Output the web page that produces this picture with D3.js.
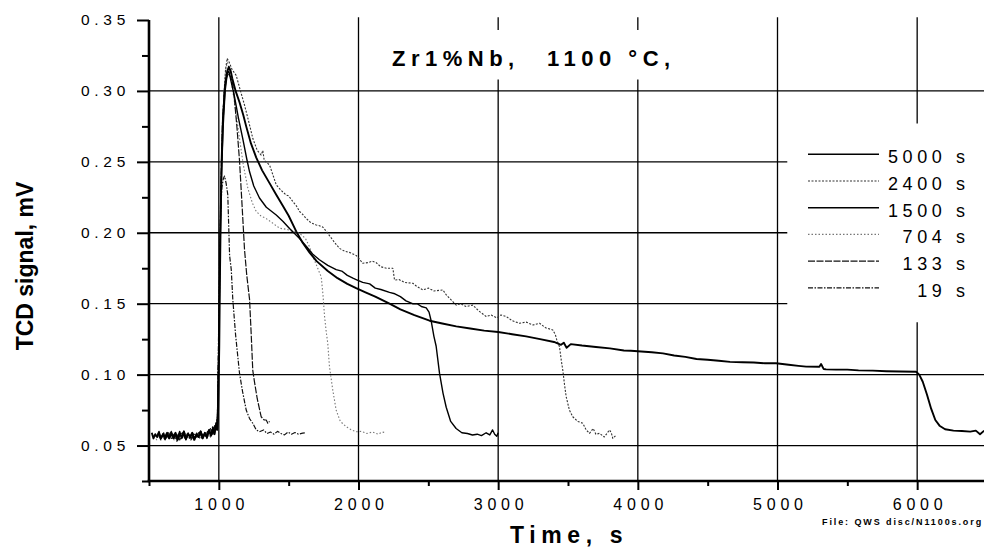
<!DOCTYPE html>
<html><head><meta charset="utf-8">
<script src="https://cdn.jsdelivr.net/npm/d3@7"></script>
<style>body{margin:0;background:#fff}svg{display:block}</style>
</head><body>
<svg id="c" width="984" height="548"></svg>
<script>
// ---------- data ----------
const xTicks = [1000, 2000, 3000, 4000, 5000, 6000];
const xMinorTicks = [500, 1500, 2500, 3500, 4500, 5500, 6500];
const yTicks = [0.05, 0.10, 0.15, 0.20, 0.25, 0.30, 0.35];
const yMinorTicks = [0.025, 0.075, 0.125, 0.175, 0.225, 0.275, 0.325];
const titleParts = ["Zr1%Nb,", "1100 °C,"];
const xLabel = "Time, s";
const yLabel = "TCD signal, mV";
const fileNote = "File: QWS disc/N1100s.org";
const legendLabels = ["5000 s", "2400 s", "1500 s", "704 s", "133 s", "19 s"];

const s5000 = [[520,.059],[532,.055],[545,.058],[558,.056],[570,.059],[585,.055],[600,.058],[615,.056],[630,.059],[645,.055],[660,.058],[675,.056],[690,.059],[705,.054],[720,.058],[735,.056],[750,.060],[765,.055],[780,.058],[795,.056],[810,.059],[825,.054],[840,.058],[855,.056],[870,.060],[885,.055],[900,.059],[915,.056],[930,.061],[945,.057],[958,.062],[968,.058],[978,.064],[988,.061],[993,.067],
[998,.09],[1003,.12],[1008,.17],[1014,.215],[1020,.25],[1030,.282],[1045,.304],[1060,.314],[1072,.317],[1085,.314],[1096,.309],[1120,.300],[1148,.292],[1175,.283],[1196,.275],[1230,.263],[1268,.253],[1310,.244],[1363,.235],[1410,.227],[1458,.219],[1500,.212],[1554,.201],[1600,.193],[1650,.186],[1700,.180],[1780,.173],[1850,.168],[1920,.164],[1983,.161],[2050,.158],[2120,.155],[2222,.150],[2300,.146],[2400,.142],[2509,.138],[2600,.136],[2700,.134],[2800,.1325],[2900,.131],[3000,.130],[3100,.1285],[3200,.127],[3300,.125],[3400,.123],[3450,.121],[3470,.1225],[3490,.119],[3520,.1215],[3600,.1205],[3700,.1195],[3800,.1185],[3900,.117],[3950,.1168],[4000,.1165],[4100,.1158],[4180,.115],[4260,.1135],[4340,.1125],[4420,.111],[4500,.1105],[4580,.1098],[4660,.109],[4750,.1087],[4830,.1085],[4910,.108],[4990,.108],[5080,.107],[5150,.1062],[5205,.1056],[5300,.1055],[5312,.1075],[5330,.104],[5348,.1037],[5420,.1035],[5500,.1035],[5580,.103],[5682,.1028],[5780,.1024],[5880,.1022],[5992,.102],[6015,.100],[6040,.095],[6070,.086],[6100,.076],[6130,.068],[6160,.064],[6200,.0615],[6260,.0605],[6320,.0602],[6380,.0598],[6420,.0605],[6450,.058],[6480,.0605]];

const s2400 = [[600,.058],[612,.054],[625,.057],[640,.055],[655,.059],[670,.055],[685,.058],[700,.054],[715,.057],[730,.055],[745,.058],[760,.054],[775,.057],[790,.055],[805,.058],[820,.054],[835,.057],[850,.056],[865,.059],[880,.055],[895,.058],[910,.056],[925,.060],[940,.056],[955,.063],[968,.058],[980,.065],[990,.07],
[996,.10],[1004,.15],[1012,.21],[1022,.26],[1035,.295],[1048,.315],[1060,.323],[1075,.320],[1095,.315],[1124,.311],[1155,.300],[1184,.290],[1215,.278],[1243,.2666],[1275,.258],[1303,.2548],[1315,.258],[1325,.251],[1363,.2478],[1390,.240],[1411,.2337],[1445,.230],[1482,.2266],[1500,.226],[1530,.222],[1555,.219],[1578,.215],[1600,.213],[1626,.210],[1660,.207],[1697,.2055],[1720,.205],[1744,.204],[1770,.201],[1792,.198],[1830,.193],[1864,.189],[1900,.187],[1940,.186],[1983,.184],[2010,.181],[2031,.1785],[2070,.179],[2100,.180],[2126,.179],[2160,.176],[2200,.175],[2246,.175],[2258,.1667],[2290,.167],[2330,.165],[2389,.1644],[2420,.162],[2461,.1597],[2500,.161],[2540,.159],[2604,.1597],[2630,.156],[2652,.1538],[2680,.151],[2700,.149],[2730,.150],[2770,.148],[2819,.149],[2860,.145],[2914,.141],[2950,.142],[2990,.140],[3020,.142],[3057,.141],[3100,.138],[3153,.1362],[3200,.137],[3250,.135],[3296,.1362],[3340,.133],[3391,.1315],[3410,.128],[3420,.1244],[3439,.1197],[3452,.110],[3463,.103],[3475,.093],[3487,.0844],[3510,.075],[3534,.0703],[3570,.067],[3606,.0657],[3630,.061],[3654,.0586],[3680,.062],[3700,.058],[3726,.0586],[3760,.056],[3797,.061],[3810,.059],[3821,.055],[3845,.0574]];

const s1500 = [[560,.057],[572,.060],[585,.055],[600,.058],[615,.054],[630,.058],[645,.056],[660,.059],[675,.055],[690,.058],[705,.056],[720,.060],[735,.055],[750,.058],[765,.054],[780,.058],[795,.056],[810,.059],[825,.055],[840,.058],[855,.056],[870,.060],[885,.056],[900,.059],[915,.055],[930,.061],[945,.057],[958,.063],[970,.058],[980,.066],[988,.062],
[994,.085],[1001,.13],[1009,.19],[1019,.24],[1031,.275],[1045,.300],[1060,.312],[1072,.314],[1085,.308],[1112,.296],[1140,.281],[1172,.266],[1200,.252],[1220,.243],[1250,.233],[1291,.2245],[1340,.218],[1411,.2125],[1460,.208],[1506,.203],[1578,.196],[1630,.190],[1671,.185],[1720,.181],[1780,.177],[1840,.174],[1880,.173],[1920,.170],[1960,.168],[1983,.167],[2030,.165],[2080,.164],[2120,.161],[2160,.160],[2222,.158],[2260,.157],[2300,.155],[2340,.152],[2387,.150],[2420,.150],[2450,.148],[2485,.147],[2505,.144],[2520,.138],[2540,.127],[2556,.120],[2580,.101],[2605,.087],[2628,.077],[2660,.067],[2699,.062],[2740,.059],[2780,.0585],[2816,.0574],[2850,.058],[2880,.057],[2914,.059],[2940,.0575],[2960,.061],[2975,.058],[2990,.0565],[3000,.059]];

const s704 = [[540,.057],[555,.054],[570,.058],[585,.055],[600,.057],[615,.054],[630,.058],[645,.055],[660,.057],[680,.054],[700,.058],[720,.055],[740,.057],[760,.059],[780,.055],[800,.058],[820,.054],[840,.057],[860,.059],[880,.055],[900,.058],[920,.056],[940,.061],[955,.058],[970,.062],[982,.064],[990,.068],
[997,.10],[1005,.16],[1014,.22],[1025,.27],[1038,.30],[1050,.316],[1062,.320],[1078,.314],[1100,.300],[1125,.283],[1148,.2666],[1175,.248],[1208,.2313],[1240,.221],[1268,.215],[1300,.212],[1339,.210],[1390,.2065],[1435,.2032],[1482,.2025],[1530,.201],[1578,.1996],[1620,.196],[1650,.190],[1674,.183],[1700,.177],[1720,.172],[1733,.169],[1745,.157],[1757,.141],[1768,.131],[1780,.122],[1792,.1056],[1816,.089],[1840,.075],[1870,.067],[1912,.0633],[1950,.061],[1983,.0597],[2020,.060],[2060,.0585],[2100,.0595],[2140,.058],[2170,.0595],[2198,.059]];

const s133 = [[590,.056],[605,.059],[620,.055],[640,.057],[660,.060],[680,.055],[700,.058],[720,.054],[740,.058],[760,.056],[780,.059],[800,.055],[820,.058],[840,.056],[860,.060],[880,.055],[900,.058],[920,.057],[940,.062],[955,.058],[970,.064],[982,.061],[990,.07],
[997,.11],[1005,.17],[1014,.23],[1025,.275],[1038,.298],[1052,.309],[1066,.312],[1085,.310],[1099,.305],[1112,.294],[1130,.274],[1148,.251],[1166,.220],[1184,.188],[1200,.170],[1220,.153],[1232,.128],[1243,.103],[1255,.095],[1275,.083],[1303,.0703],[1325,.068],[1339,.068],[1351,.0657],[1363,.067]];

const s19 = [[570,.057],[585,.054],[600,.058],[620,.056],[640,.059],[660,.055],[680,.058],[700,.053],[720,.057],[740,.059],[760,.055],[780,.058],[800,.054],[820,.057],[840,.059],[860,.055],[880,.058],[900,.056],[920,.060],[940,.057],[955,.063],[968,.059],[980,.065],[990,.07],
[997,.12],[1005,.18],[1013,.215],[1022,.232],[1032,.238],[1041,.240],[1052,.235],[1064,.227],[1077,.184],[1089,.174],[1100,.153],[1120,.128],[1148,.101],[1170,.088],[1196,.075],[1220,.069],[1243,.0657],[1268,.061],[1291,.0597],[1320,.061],[1345,.0585],[1370,.0595],[1395,.058],[1420,.06],[1445,.0585],[1470,.0575],[1495,.0595],[1520,.058],[1545,.0592],[1570,.058],[1600,.0588],[1626,.059]];

const seriesData = [s5000, s2400, s1500, s704, s133, s19];

// ---------- styles ----------
const styles = [
  {stroke:"#000", w:1.9, dash:null},
  {stroke:"#333", w:1.1, dash:"2,1.5"},
  {stroke:"#000", w:1.4, dash:null},
  {stroke:"#777", w:1.1, dash:"1.5,2"},
  {stroke:"#111", w:1.2, dash:"7,1.5"},
  {stroke:"#111", w:1.2, dash:"5,1.5,1.5,1.5"}
];
const FONT = "'Liberation Sans', Arial, Helvetica, sans-serif";

const svg = d3.select("#c");
const x = d3.scaleLinear().domain([500, 6500]).range([149, 987]);
const y = d3.scaleLinear().domain([0.025, 0.35]).range([481, 20]);

// ---------- grid ----------
const g = svg.append("g");
const vGaps = {3000: [[0.308, 0.343]], 4000: [[0.308, 0.343]], 6000: [[0.137, 0.277]]};
xTicks.forEach(t => {
  let segs = [[0.025, 0.352]];
  (vGaps[t] || []).forEach(([a, b]) => {
    segs = segs.flatMap(([s, e]) => (a > s && b < e) ? [[s, a], [b, e]] : [[s, e]]);
  });
  segs.forEach(([s, e]) => g.append("line")
    .attr("x1", x(t)).attr("x2", x(t)).attr("y1", y(s)).attr("y2", y(e))
    .attr("stroke", "#000").attr("stroke-width", 1.3));
});
const hEnd = {0.25: 5070, 0.20: 5070, 0.15: 5070};
yTicks.filter(v => v < 0.34).forEach(v => {
  const key = Math.round(v * 100) / 100;
  const end = hEnd[key] || 6500;
  g.append("line").attr("x1", x(500)).attr("x2", x(end))
    .attr("y1", y(v)).attr("y2", y(v))
    .attr("stroke", "#000").attr("stroke-width", 1.3);
});

// ---------- curves ----------
const line = d3.line().x(d => x(d[0])).y(d => y(d[1]));
const order = [3, 1, 5, 4, 2, 0];
order.forEach(i => {
  const st = styles[i];
  svg.append("path").datum(seriesData[i]).attr("d", line)
    .attr("fill", "none").attr("stroke", st.stroke).attr("stroke-width", st.w)
    .attr("stroke-linejoin", "round")
    .attr("stroke-dasharray", st.dash);
});

// ---------- axes ----------
const yAxis = svg.append("g").attr("transform", `translate(${x(500)},0)`)
  .call(d3.axisLeft(y).tickValues(yTicks).tickSize(12).tickSizeOuter(0).tickFormat(d3.format(".2f")));
yAxis.select(".domain").remove();
yAxis.selectAll("line").attr("stroke", "#000").attr("stroke-width", 2);
yAxis.selectAll("text").attr("x", -19).attr("font-size", 15.5).attr("font-family", FONT)
  .attr("letter-spacing", 4.7).attr("fill", "#000");
const yMinor = svg.append("g").attr("transform", `translate(${x(500)},0)`)
  .call(d3.axisLeft(y).tickValues(yMinorTicks).tickSize(7).tickFormat(""));
yMinor.select(".domain").remove();
yMinor.selectAll("line").attr("stroke", "#000").attr("stroke-width", 2);

const xAxis = svg.append("g").attr("transform", `translate(0,${y(0.025)})`)
  .call(d3.axisBottom(x).tickValues(xTicks).tickSize(9).tickSizeOuter(0).tickFormat(d3.format("d")));
xAxis.select(".domain").remove();
xAxis.selectAll("line").attr("stroke", "#000").attr("stroke-width", 2);
xAxis.selectAll("text").attr("y", 29).attr("dy", 0).attr("dx", 2.4)
  .attr("font-size", 16).attr("font-family", FONT).attr("letter-spacing", 4.8).attr("fill", "#000");
const xMinor = svg.append("g").attr("transform", `translate(0,${y(0.025)})`)
  .call(d3.axisBottom(x).tickValues(xMinorTicks).tickSize(5).tickFormat(""));
xMinor.select(".domain").remove();
xMinor.selectAll("line").attr("stroke", "#000").attr("stroke-width", 2);

svg.append("line").attr("x1", x(500)).attr("x2", x(500)).attr("y1", y(0.35)).attr("y2", y(0.025))
  .attr("stroke", "#000").attr("stroke-width", 2.6);
svg.append("line").attr("x1", x(500) - 1.3).attr("x2", x(6500)).attr("y1", y(0.025)).attr("y2", y(0.025))
  .attr("stroke", "#000").attr("stroke-width", 2.6);

// ---------- texts ----------
const tl = svg.append("text").attr("y", 65.5).attr("font-family", FONT).attr("font-weight", "bold")
  .attr("font-size", 22).attr("letter-spacing", 5.5).attr("fill", "#000");
tl.append("tspan").attr("x", 392).text(titleParts[0]);
tl.append("tspan").attr("x", 547).text(titleParts[1]);

svg.append("text").attr("x", 510).attr("y", 543).attr("font-family", FONT).attr("font-weight", "bold")
  .attr("font-size", 23).attr("letter-spacing", 5.6).attr("fill", "#000").text(xLabel);

svg.append("text").attr("transform", "translate(33,266) rotate(-90)").attr("text-anchor", "middle")
  .attr("font-family", FONT).attr("font-weight", "bold").attr("font-size", 23).attr("fill", "#000").text(yLabel);

svg.append("text").attr("x", 822).attr("y", 525).attr("font-family", FONT).attr("font-weight", "bold")
  .attr("font-size", 9).attr("letter-spacing", 1.9).attr("fill", "#000").text(fileNote);

// ---------- legend ----------
const lg = svg.append("g");
legendLabels.forEach((lab, i) => {
  const by = 163.3 + i * 26.7;
  const st = styles[i];
  lg.append("line").attr("x1", 808).attr("x2", 879).attr("y1", by - 9).attr("y2", by - 9)
    .attr("stroke", st.stroke).attr("stroke-width", i === 0 ? 1.6 : st.w).attr("stroke-dasharray", st.dash);
  lg.append("text").attr("x", 965 + 4.6).attr("y", by).attr("text-anchor", "end")
    .attr("font-family", FONT).attr("font-size", 18).attr("letter-spacing", 4.6).attr("fill", "#000").text(lab);
});
</script>
</body></html>
